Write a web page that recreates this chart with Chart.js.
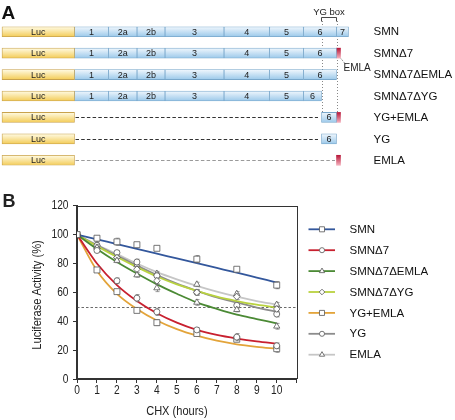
<!DOCTYPE html>
<html>
<head>
<meta charset="utf-8">
<script src="https://cdn.jsdelivr.net/npm/chart.js@4.4.1/dist/chart.umd.min.js"></script>
<style>
  html, body { margin: 0; padding: 0; background: #fff; }
  #wrap { position: relative; width: 455px; height: 420px; }
  #constructs { position: absolute; left: 0; top: 0; }
  #decay { position: absolute; left: 0; top: 185px; }
</style>
</head>
<body>
<div id="wrap">
  <canvas id="constructs" width="455" height="185"></canvas>
  <canvas id="decay" width="455" height="235"></canvas>
</div>
<script>
// ---- panel A : constructs (diagram units along the x axis) ----
const constructs = ['SMN', 'SMNΔ7', 'SMNΔ7ΔEMLA', 'SMNΔ7ΔYG', 'YG+EMLA', 'YG', 'EMLA'];
const exonLabels = ['1', '2a', '2b', '3', '4', '5', '6', '7'];
const exonFrom = [74.5, 108.5, 137, 165, 224, 269.5, 303.5, 336.5];
const exonTo = [108.5, 137, 165, 224, 269.5, 303.5, 336.5, 348.5];
const lucSpan = [2, 74.5];
const ygBoxFrom = 321.5;      // start of YG box inside exon 6
const emlaTo = 340.5;         // EMLA tail after exon 6
const lucRows = [0, 1, 2, 3, 4, 5, 6];
const exon15Rows = [0, 1, 2, 3];
const exon6Rows = [0, 1, 2];
const exon6CutRows = [3];
const ygBoxRows = [4, 5];
const exon7Rows = [0];
const emlaRows = [1, 4, 6];
const dashedRows = [4, 5, 6];
const dashedTo = [318, 318, 335];

// ---- panel B : luciferase decay after CHX ----
const hours = [0, 1, 2, 3, 4, 6, 8, 10];
const fitHours = [0, 1, 2, 3, 4, 5, 6, 7, 8, 9, 10];
const xTicks = [0, 1, 2, 3, 4, 5, 6, 7, 8, 9, 10];
const yTicks = [0, 20, 40, 60, 80, 100, 120];
const halfLevel = 50;

const smnMean = [100, 97.5, 95, 93, 90.5, 83, 76, 65];
const smnErr = [0, 1.5, 2.5, 1, 1.5, 2.5, 1, 2.5];
const d7Mean = [100, 89, 68, 56, 46.5, 34, 29, 23];
const d7Err = [0, 1.5, 2, 2.5, 2.5, 1.5, 2.5, 2];
const d7EmlaMean = [100, 91, 82, 72, 63, 53, 48, 36.5];
const d7EmlaErr = [0, 2, 1.5, 1.5, 2.5, 2, 1.5, 2];
const d7YgMean = [100, 90.5, 84, 76, 68, 60, 57, 48.5];
const d7YgErr = [0, 1.5, 2, 2, 2, 2, 2, 2];
const ygEmlaMean = [100, 75.5, 60.5, 47.5, 39, 31.5, 27.5, 21];
const ygEmlaErr = [0, 1, 1, 1, 2, 1, 1.5, 2.5];
const ygMean = [100, 92.5, 87.5, 81, 71.5, 60, 51, 45];
const ygErr = [0, 1.5, 1.5, 2, 2, 2, 2, 2];
const emlaMean = [100, 93.5, 85, 79, 73, 65.5, 59, 51.5];
const emlaErr = [0, 1.5, 1.5, 1.5, 1.5, 1.5, 1.5, 1.5];

// fitted decay curves
const smnFit = [100, 96.7, 93.4, 90.1, 86.8, 83.5, 80.2, 76.9, 73.6, 70.2, 66.8];
const d7Fit = [100, 80, 65, 54, 45.5, 39, 34, 30.5, 28, 26, 24.5];
const d7EmlaFit = [100, 90, 81, 73, 65.5, 59, 53, 48.5, 44.5, 41.5, 38.5];
const d7YgFit = [100, 92, 84.5, 77.5, 71, 65.5, 61, 57, 54, 51.5, 49.5];
const ygEmlaFit = [100, 75, 59, 48.5, 40.5, 34.5, 30, 26.5, 24, 22.3, 21];
const ygFit = [100, 92.5, 85.5, 78.5, 72, 66, 61, 56.5, 53, 49.5, 46.5];
const emlaFit = [100, 93, 86.5, 80, 74, 69, 64.5, 60.5, 57, 54, 51.5];

const seriesMeans = [smnMean, d7Mean, d7EmlaMean, d7YgMean, ygEmlaMean, ygMean, emlaMean];
const seriesErrs = [smnErr, d7Err, d7EmlaErr, d7YgErr, ygEmlaErr, ygErr, emlaErr];
const seriesFits = [smnFit, d7Fit, d7EmlaFit, d7YgFit, ygEmlaFit, ygFit, emlaFit];
const seriesColors = ['#33579c', '#c8202f', '#4b8a35', '#b9d23f', '#e3a43a', '#8c8c8c', '#c6c6c6'];
const seriesMarkers = ['rect', 'circle', 'triangle', 'rectRot', 'rect', 'circle', 'triangle'];
const markerSizes = [4.2, 3, 3.6, 3.3, 4.2, 3, 3.6];

const sans = '"Liberation Sans", Arial, Helvetica, sans-serif';

// vertical gradient fill for one bar row
function rowFill(top, bottom) {
  return c => {
    const chart = c.chart;
    if (c.type !== 'data' || !chart.chartArea || !chart.scales.y) return bottom;
    const yc = chart.scales.y.getPixelForValue(c.parsed.y);
    const g = chart.ctx.createLinearGradient(0, yc - 5, 0, yc + 5);
    g.addColorStop(0, top);
    g.addColorStop(1, bottom);
    return g;
  };
}

function pieces(rows, from, to) {
  return rows.map(r => ({ x: [from, to], y: constructs[r] }));
}

const lucStyle = { backgroundColor: rowFill('#fffbe4', '#f3cc58'), borderColor: '#c8a24c' };
const exonStyle = { backgroundColor: rowFill('#f0f7fd', '#9cc9ea'), borderColor: '#78a7cb' };

const segDatasets = [];
segDatasets.push({ label: 'Luc', data: pieces(lucRows, lucSpan[0], lucSpan[1]), ...lucStyle });
// exons 1 .. 5
for (let i = 0; i < 6; i++) {
  segDatasets.push({ label: exonLabels[i], data: pieces(exon15Rows, exonFrom[i], exonTo[i]), ...exonStyle });
}
segDatasets.push({
  label: exonLabels[6],
  data: pieces(exon6Rows, exonFrom[6], exonTo[6])
    .concat(pieces(exon6CutRows, exonFrom[6], ygBoxFrom))
    .concat(pieces(ygBoxRows, ygBoxFrom, exonTo[6])),
  ...exonStyle
});
segDatasets.push({ label: exonLabels[7], data: pieces(exon7Rows, exonFrom[7], exonTo[7]), ...exonStyle });
segDatasets.push({
  label: 'EMLA', data: pieces(emlaRows, exonTo[6], emlaTo),
  backgroundColor: rowFill('#b8183a', '#f4b0bc'), borderColor: '#b8183a', borderWidth: 0
});

const constructPlugin = {
  id: 'constructPlugin',
  beforeDatasetsDraw(chart) {
    const { ctx, scales: { x, y } } = chart;
    ctx.save();
    // linker dashes
    dashedRows.forEach((r, i) => {
      const yy = Math.round(y.getPixelForValue(r)) + 0.5;
      ctx.strokeStyle = r === 6 ? '#9a9a9a' : '#333';
      ctx.lineWidth = 1;
      ctx.setLineDash([3.5, 2.2]);
      ctx.beginPath();
      ctx.moveTo(x.getPixelForValue(lucSpan[1]) + 1, yy);
      ctx.lineTo(x.getPixelForValue(dashedTo[i]), yy);
      ctx.stroke();
    });
    // YG box guides
    ctx.strokeStyle = '#888';
    ctx.setLineDash([1, 2]);
    [ygBoxFrom, exonTo[6]].forEach(v => {
      const xx = Math.round(x.getPixelForValue(v)) + 0.5;
      ctx.beginPath();
      ctx.moveTo(xx, 21);
      ctx.lineTo(xx, y.getPixelForValue(4) - 5);
      ctx.stroke();
    });
    ctx.restore();
  },
  afterDatasetsDraw(chart) {
    const { ctx, scales: { x, y } } = chart;
    ctx.save();
    ctx.fillStyle = '#222';
    ctx.textAlign = 'center';
    ctx.textBaseline = 'middle';
    ctx.font = '9px ' + sans;
    chart.data.datasets.forEach((ds, i) => {
      if (ds.label === 'EMLA') return;
      chart.getDatasetMeta(i).data.forEach(bar => {
        ctx.fillText(ds.label, (bar.x + bar.base) / 2, bar.y + 0.5);
      });
    });

    // YG box bracket
    const bx0 = x.getPixelForValue(ygBoxFrom), bx1 = x.getPixelForValue(exonTo[6]);
    ctx.strokeStyle = '#333';
    ctx.lineWidth = 0.9;
    ctx.beginPath();
    ctx.moveTo(bx0, 21.5); ctx.lineTo(bx0, 17.5); ctx.lineTo(bx1, 17.5); ctx.lineTo(bx1, 21.5);
    ctx.stroke();
    ctx.font = '9.5px ' + sans;
    ctx.fillText('YG box', (bx0 + bx1) / 2, 12.5);

    // EMLA callout
    const ex = x.getPixelForValue(emlaTo), ey = y.getPixelForValue(1);
    ctx.setLineDash([1, 1.2]);
    ctx.strokeStyle = '#555';
    ctx.beginPath();
    ctx.moveTo(ex + 0.5, ey + 5.5);
    ctx.lineTo(ex + 5, ey + 11);
    ctx.stroke();
    ctx.setLineDash([]);
    ctx.textAlign = 'left';
    ctx.font = '10px ' + sans;
    ctx.fillText('EMLA', ex + 3, ey + 15.5);

    // construct names
    ctx.font = '11.5px ' + sans;
    ctx.fillStyle = '#111';
    constructs.forEach((name, r) => ctx.fillText(name, 373.5, y.getPixelForValue(r) + 0.5));

    ctx.font = 'bold 19px ' + sans;
    ctx.textBaseline = 'alphabetic';
    ctx.fillText('A', 1.5, 19);
    ctx.restore();
  }
};

new Chart(document.getElementById('constructs'), {
  type: 'bar',
  data: { labels: constructs, datasets: segDatasets },
  options: {
    indexAxis: 'y',
    responsive: false,
    animation: false,
    events: [],
    layout: { padding: { top: 21, bottom: 14, left: 0, right: 0 } },
    plugins: { legend: { display: false }, tooltip: { enabled: false } },
    datasets: { bar: { grouped: false, barThickness: 10, borderSkipped: false, borderWidth: 0.8 } },
    scales: {
      x: { type: 'linear', min: 0, max: 455, display: false },
      y: { display: false }
    }
  },
  plugins: [constructPlugin]
});

// ---- panel B chart ----
function marker(ctx, style, x, y, r) {
  ctx.beginPath();
  if (style === 'circle') {
    ctx.arc(x, y, r, 0, Math.PI * 2);
  } else if (style === 'rect') {
    const s = r * Math.SQRT1_2;
    ctx.rect(x - s, y - s, 2 * s, 2 * s);
  } else if (style === 'triangle') {
    ctx.moveTo(x, y - r);
    ctx.lineTo(x + r * 0.866, y + r * 0.5);
    ctx.lineTo(x - r * 0.866, y + r * 0.5);
    ctx.closePath();
  } else {
    ctx.moveTo(x, y - r); ctx.lineTo(x + r, y); ctx.lineTo(x, y + r); ctx.lineTo(x - r, y);
    ctx.closePath();
  }
  ctx.fill();
  ctx.stroke();
}

// the figure uses a narrow grotesque; squeeze Liberation Sans horizontally
function narrowText(ctx, text, x, y, size, align, rot) {
  ctx.save();
  ctx.translate(x, y);
  if (rot) ctx.rotate(rot);
  ctx.scale(0.85, 1);
  ctx.font = size + 'px ' + sans;
  ctx.textAlign = align;
  ctx.textBaseline = 'middle';
  ctx.fillText(text, 0, 0);
  ctx.restore();
}

const fitDatasets = seriesFits.map((fit, i) => ({
  type: 'line',
  label: constructs[i] + ' fit',
  data: fitHours.map((h, k) => ({ x: h, y: fit[k] })),
  borderColor: seriesColors[i],
  borderWidth: 1.8,
  pointRadius: 0,
  fill: false,
  cubicInterpolationMode: 'monotone',
  order: 1
}));

const pointDatasets = seriesMeans.map((m, i) => ({
  type: 'scatter',
  label: constructs[i],
  data: hours.map((h, k) => ({ x: h, y: m[k] })),
  errors: seriesErrs[i],
  pointStyle: seriesMarkers[i],
  pointRadius: markerSizes[i],
  pointBackgroundColor: '#fff',
  pointBorderColor: '#555',
  pointBorderWidth: 0.8,
  order: 0
}));

const decayPlugin = {
  id: 'decayPlugin',
  beforeDatasetsDraw(chart) {
    const { ctx, chartArea: a, scales: { y } } = chart;
    const yy = Math.round(y.getPixelForValue(halfLevel)) + 0.5;
    ctx.save();
    ctx.setLineDash([2.5, 2]);
    ctx.strokeStyle = '#444';
    ctx.lineWidth = 0.8;
    ctx.beginPath();
    ctx.moveTo(a.left, yy);
    ctx.lineTo(a.right, yy);
    ctx.stroke();
    ctx.restore();
  },
  beforeDatasetDraw(chart, args) {
    const ds = chart.data.datasets[args.index];
    if (!ds.errors) return;
    const { ctx, scales: { x, y } } = chart;
    ctx.save();
    ctx.strokeStyle = '#808080';
    ctx.lineWidth = 0.8;
    ds.data.forEach((p, k) => {
      const e = ds.errors[k];
      if (!e) return;
      const xx = Math.round(x.getPixelForValue(p.x)) + 0.5;
      const y0 = y.getPixelForValue(p.y + e), y1 = y.getPixelForValue(p.y - e);
      ctx.beginPath();
      ctx.moveTo(xx, y0); ctx.lineTo(xx, y1);
      ctx.moveTo(xx - 2, y0); ctx.lineTo(xx + 2, y0);
      ctx.moveTo(xx - 2, y1); ctx.lineTo(xx + 2, y1);
      ctx.stroke();
    });
    ctx.restore();
  },
  afterDraw(chart) {
    const { ctx, chartArea: a, scales: { x, y } } = chart;
    ctx.save();
    // box frame
    ctx.strokeStyle = '#333';
    ctx.lineWidth = 1;
    ctx.strokeRect(Math.round(a.left) - 0.5, Math.round(a.top) + 0.5,
      Math.round(a.right) - Math.round(a.left) + 1, Math.round(a.bottom) - Math.round(a.top) - 1);

    // legend
    seriesColors.forEach((col, i) => {
      const yy = 44.3 + i * 20.9;
      ctx.strokeStyle = col;
      ctx.lineWidth = 1.8;
      ctx.beginPath();
      ctx.moveTo(308.5, yy);
      ctx.lineTo(335, yy);
      ctx.stroke();
      ctx.fillStyle = '#fff';
      ctx.strokeStyle = '#555';
      ctx.lineWidth = 0.8;
      marker(ctx, seriesMarkers[i], 322, yy, markerSizes[i] * 0.85);
      ctx.fillStyle = '#111';
      ctx.font = '11.5px ' + sans;
      ctx.textAlign = 'left';
      ctx.textBaseline = 'middle';
      ctx.fillText(constructs[i], 349.5, yy + 0.5);
    });

    // tick labels and axis titles
    ctx.fillStyle = '#222';
    xTicks.forEach(v => narrowText(ctx, String(v), x.getPixelForValue(v), 205.8, 12, 'center'));
    yTicks.forEach(v => narrowText(ctx, String(v), 68.5, y.getPixelForValue(v) + 0.3, 12, 'right'));
    narrowText(ctx, 'CHX (hours)', x.getPixelForValue(xTicks[5]), 226, 13, 'center');
    narrowText(ctx, 'Luciferase Activity (%)', 37, 110, 13, 'center', -Math.PI / 2);

    ctx.font = 'bold 18px ' + sans;
    ctx.textAlign = 'left';
    ctx.textBaseline = 'alphabetic';
    ctx.fillText('B', 2.5, 21.7);
    ctx.restore();
  }
};

const axisGrid = { drawOnChartArea: false, drawTicks: true, tickLength: 4, color: '#333', lineWidth: 1 };

new Chart(document.getElementById('decay'), {
  type: 'scatter',
  data: { datasets: fitDatasets.concat(pointDatasets) },
  options: {
    responsive: false,
    animation: false,
    events: [],
    layout: { padding: { top: 20.7, right: 158.3, bottom: 0, left: 0 } },
    plugins: { legend: { display: false }, tooltip: { enabled: false } },
    scales: {
      x: {
        type: 'linear', min: 0, max: 11,
        afterFit: s => { s.height = 41; },
        ticks: { stepSize: 1, autoSkip: false, maxRotation: 0, callback: () => '' },
        grid: axisGrid,
        border: { color: '#333', width: 1 }
      },
      y: {
        min: 0, max: 120,
        afterFit: s => { s.width = 77; },
        ticks: { stepSize: 20, callback: () => '' },
        grid: axisGrid,
        border: { color: '#333', width: 1 }
      }
    }
  },
  plugins: [decayPlugin]
});
</script>
</body>
</html>
